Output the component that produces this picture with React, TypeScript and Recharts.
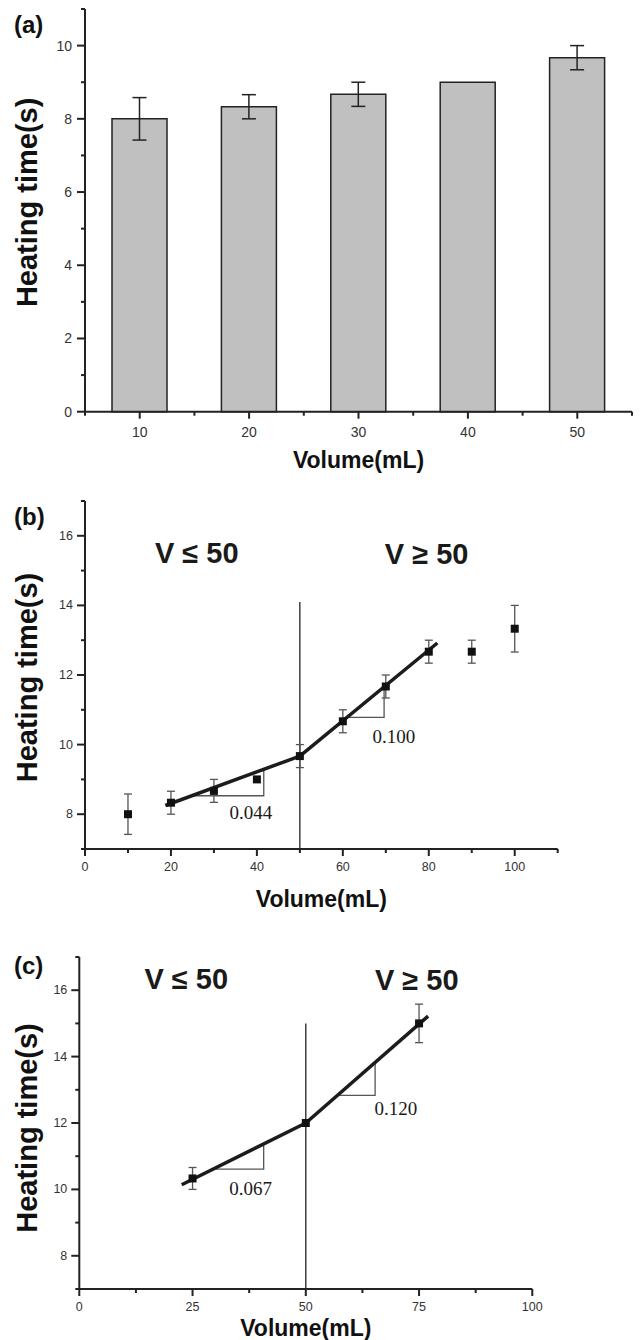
import React from "react";
import {
  BarChart,
  Bar,
  ComposedChart,
  Scatter,
  XAxis,
  YAxis,
  ErrorBar,
  ReferenceLine,
  ReferenceDot,
  Label,
} from "recharts";

// ---- (a) heating time by volume, bars ----
const volumesA = [10, 20, 30, 40, 50];
const timesA = [8.0, 8.33, 8.67, 9.0, 9.67];
const errorsA = [0.58, 0.33, 0.33, 0, 0.33];
const xTicksA = [5, 10, 15, 20, 25, 30, 35, 40, 45, 50, 55];
const xMajorsA = [10, 20, 30, 40, 50];
const yTicksA = [0, 1, 2, 3, 4, 5, 6, 7, 8, 9, 10, 11];
const yMajorsA = [0, 2, 4, 6, 8, 10];

// ---- (b) measured points with two linear fits ----
const volumesB = [10, 20, 30, 40, 50, 60, 70, 80, 90, 100];
const timesB = [8.0, 8.33, 8.67, 9.0, 9.67, 10.67, 11.67, 12.67, 12.67, 13.33];
const errorsB = [0.58, 0.33, 0.33, 0, 0.33, 0.33, 0.33, 0.33, 0.33, 0.67];
const fitLowB = [{ x: 18.7, y: 8.25 }, { x: 50, y: 9.67 }];
const fitHighB = [{ x: 50, y: 9.67 }, { x: 82, y: 12.92 }];
const slopeLowB = [{ x: 24.9, y: 8.53 }, { x: 41.6, y: 8.53 }, { x: 41.6, y: 9.27 }];
const slopeHighB = [{ x: 61, y: 10.78 }, { x: 69.6, y: 10.78 }, { x: 69.6, y: 11.67 }];
const splitB = [{ x: 50, y: 7 }, { x: 50, y: 14.1 }];
const regionLabelsB = [
  { text: "V ≤ 50", x: 26, y: 15.52 },
  { text: "V ≥ 50", x: 79.5, y: 15.49 },
];
const slopeLabelsB = [
  { text: "0.044", x: 38.6, y: 8.04 },
  { text: "0.100", x: 71.9, y: 10.22 },
];
const xTicksB = [0, 10, 20, 30, 40, 50, 60, 70, 80, 90, 100, 110];
const xMajorsB = [0, 20, 40, 60, 80, 100];
const yTicksB = [7, 8, 9, 10, 11, 12, 13, 14, 15, 16, 17];
const yMajorsB = [8, 10, 12, 14, 16];

// ---- (c) three volumes with two linear fits ----
const volumesC = [25, 50, 75];
const timesC = [10.33, 12.0, 15.0];
const errorsC = [0.33, 0, 0.58];
const fitLowC = [{ x: 22.6, y: 10.14 }, { x: 50, y: 12.0 }];
const fitHighC = [{ x: 50, y: 12.0 }, { x: 77, y: 15.22 }];
const slopeLowC = [{ x: 30.1, y: 10.61 }, { x: 40.7, y: 10.61 }, { x: 40.7, y: 11.33 }];
const slopeHighC = [{ x: 57.2, y: 12.83 }, { x: 65.3, y: 12.83 }, { x: 65.3, y: 13.79 }];
const splitC = [{ x: 50, y: 7 }, { x: 50, y: 15 }];
const regionLabelsC = [
  { text: "V ≤ 50", x: 23.6, y: 16.33 },
  { text: "V ≥ 50", x: 74.5, y: 16.3 },
];
const slopeLabelsC = [
  { text: "0.067", x: 37.8, y: 10.02 },
  { text: "0.120", x: 69.9, y: 12.43 },
];
const xTicksC = [0, 12.5, 25, 37.5, 50, 62.5, 75, 87.5, 100];
const xMajorsC = [0, 25, 50, 75, 100];
const yTicksC = [7, 8, 9, 10, 11, 12, 13, 14, 15, 16, 17];
const yMajorsC = [8, 10, 12, 14, 16];

const SANS = "'Liberation Sans', Arial, Helvetica, sans-serif";
const SERIF = "'Liberation Serif', 'Times New Roman', serif";
const AXIS = "#222";
const TICK_TEXT = "#333";

// ticks drawn by hand so major and minor marks get different lengths
function xTick(majors: number[], fontSize: number, gap: number) {
  return (props: any) => {
    const { y, payload } = props;
    const x = payload.coordinate;
    const major = majors.includes(payload.value);
    return (
      <g>
        <line x1={x} y1={y} x2={x} y2={y + (major ? 7 : 4)} stroke={AXIS} strokeWidth={2} />
        {major && (
          <text
            x={x}
            y={y + gap}
            textAnchor="middle"
            dominantBaseline="central"
            fontSize={fontSize}
            fontFamily={SANS}
            fill={TICK_TEXT}
          >
            {payload.value}
          </text>
        )}
      </g>
    );
  };
}

function yTick(majors: number[], fontSize: number, gap: number) {
  return (props: any) => {
    const { x, payload } = props;
    const y = payload.coordinate;
    const major = majors.includes(payload.value);
    return (
      <g>
        <line x1={x} y1={y} x2={x - (major ? 8 : 4)} y2={y} stroke={AXIS} strokeWidth={2} />
        {major && (
          <text
            x={x - gap}
            y={y}
            textAnchor="end"
            dominantBaseline="central"
            fontSize={fontSize}
            fontFamily={SANS}
            fill={TICK_TEXT}
          >
            {payload.value}
          </text>
        )}
      </g>
    );
  };
}

function xTitle(dy: number) {
  return (props: any) => {
    const vb = props.viewBox;
    return (
      <text
        x={vb.x + vb.width / 2}
        y={vb.y + dy}
        textAnchor="middle"
        dominantBaseline="central"
        fontSize={23}
        fontWeight={700}
        fontFamily={SANS}
        fill="#111"
      >
        Volume(mL)
      </text>
    );
  };
}

function yTitle(dy: number) {
  return (props: any) => {
    const vb = props.viewBox;
    const cx = 37;
    const cy = vb.y + vb.height / 2 + dy;
    return (
      <text
        x={cx}
        y={cy}
        transform={`rotate(-90 ${cx} ${cy})`}
        textAnchor="middle"
        fontSize={29}
        fontWeight={700}
        fontFamily={SANS}
        fill="#111"
      >
        Heating time(s)
      </text>
    );
  };
}

function note(text: string, fontSize: number, family: string, weight: number) {
  return (props: any) => {
    const vb = props.viewBox;
    return (
      <text
        x={vb.x}
        y={vb.y}
        textAnchor="middle"
        dominantBaseline="central"
        fontSize={fontSize}
        fontWeight={weight}
        fontFamily={family}
        fill="#1a1a1a"
      >
        {text}
      </text>
    );
  };
}

const noDot = () => <g />;

function PanelLetter({ text, top }: { text: string; top: number }) {
  return (
    <div
      style={{
        position: "absolute",
        left: 14,
        top,
        fontFamily: SANS,
        fontWeight: 700,
        fontSize: 24,
        lineHeight: "24px",
        color: "#111",
      }}
    >
      {text}
    </div>
  );
}

function BarPanel() {
  const data = volumesA.map((v, i) => ({ v, t: timesA[i], e: errorsA[i] }));
  return (
    <div style={{ position: "absolute", left: 0, top: 0 }}>
      <BarChart width={640} height={480} data={data} margin={{ top: 9, right: 8, bottom: 0, left: 0 }}>
        <XAxis
          dataKey="v"
          type="number"
          domain={[5, 55]}
          ticks={xTicksA}
          interval={0}
          height={68.3}
          tickSize={0}
          tickMargin={0}
          tickLine={false}
          tick={xTick(xMajorsA, 14, 20)}
          axisLine={{ stroke: AXIS, strokeWidth: 2 }}
        >
          <Label content={xTitle(48)} />
        </XAxis>
        <YAxis
          type="number"
          domain={[0, 11]}
          ticks={yTicksA}
          interval={0}
          width={85}
          tickSize={0}
          tickMargin={0}
          tickLine={false}
          tick={yTick(yMajorsA, 14, 13)}
          axisLine={{ stroke: AXIS, strokeWidth: 2 }}
        >
          <Label content={yTitle(-8)} />
        </YAxis>
        <Bar dataKey="t" barSize={55} fill="#c0c0c0" stroke={AXIS} strokeWidth={1.5} isAnimationActive={false}>
          <ErrorBar dataKey="e" width={7} stroke={AXIS} strokeWidth={1.5} />
        </Bar>
      </BarChart>
    </div>
  );
}

interface SlopePanelProps {
  top: number;
  height: number;
  marginTop: number;
  plotHeight: number;
  right: number;
  axisWidth: number;
  xDomain: [number, number];
  xTicks: number[];
  xMajors: number[];
  yTicks: number[];
  yMajors: number[];
  volumes: number[];
  times: number[];
  errors: number[];
  fits: { x: number; y: number }[][];
  slopes: { x: number; y: number }[][];
  split: { x: number; y: number }[];
  regionLabels: { text: string; x: number; y: number }[];
  slopeLabels: { text: string; x: number; y: number }[];
  xTitleDy: number;
  yTitleDy: number;
}

function SlopePanel(p: SlopePanelProps) {
  const points = p.volumes.map((x, i) => ({ x, y: p.times[i], err: p.errors[i] }));
  const xAxisHeight = p.height - p.marginTop - p.plotHeight;
  return (
    <div style={{ position: "absolute", left: 0, top: p.top }}>
      <ComposedChart width={640} height={p.height} margin={{ top: p.marginTop, right: p.right, bottom: 0, left: 0 }}>
        <XAxis
          dataKey="x"
          type="number"
          domain={p.xDomain}
          ticks={p.xTicks}
          interval={0}
          height={xAxisHeight}
          tickSize={0}
          tickMargin={0}
          tickLine={false}
          tick={xTick(p.xMajors, 12.5, 18)}
          axisLine={{ stroke: AXIS, strokeWidth: 2 }}
        >
          <Label content={xTitle(p.xTitleDy)} />
        </XAxis>
        <YAxis
          dataKey="y"
          type="number"
          domain={[7, 17]}
          ticks={p.yTicks}
          interval={0}
          width={p.axisWidth}
          tickSize={0}
          tickMargin={0}
          tickLine={false}
          tick={yTick(p.yMajors, 12.5, 12)}
          axisLine={{ stroke: AXIS, strokeWidth: 2 }}
        >
          <Label content={yTitle(p.yTitleDy)} />
        </YAxis>
        <ReferenceLine segment={p.split} stroke={AXIS} strokeWidth={1.3} />
        {p.slopes.map((s, i) => (
          <Scatter
            key={`s${i}`}
            data={s}
            line={{ stroke: "#555", strokeWidth: 1.3 }}
            shape={noDot}
            isAnimationActive={false}
          />
        ))}
        {p.fits.map((f, i) => (
          <Scatter
            key={`f${i}`}
            data={f}
            line={{ stroke: "#1c1c1c", strokeWidth: 3.5 }}
            shape={noDot}
            isAnimationActive={false}
          />
        ))}
        <Scatter data={points} shape="square" fill="#111" isAnimationActive={false}>
          <ErrorBar dataKey="err" direction="y" width={4} stroke="#555" strokeWidth={1.3} />
        </Scatter>
        {p.regionLabels.map((n) => (
          <ReferenceDot
            key={n.text}
            x={n.x}
            y={n.y}
            r={0}
            fill="none"
            stroke="none"
            label={{ content: note(n.text, 29, SANS, 700) }}
          />
        ))}
        {p.slopeLabels.map((n) => (
          <ReferenceDot
            key={n.text}
            x={n.x}
            y={n.y}
            r={0}
            fill="none"
            stroke="none"
            label={{ content: note(n.text, 19, SERIF, 400) }}
          />
        ))}
      </ComposedChart>
    </div>
  );
}

export default function App() {
  return (
    <div style={{ position: "absolute", left: 0, top: 0, width: 640, height: 1340, background: "#fff" }}>
      <BarPanel />
      <SlopePanel
        top={480}
        height={445}
        marginTop={21}
        plotHeight={348}
        right={82.3}
        axisWidth={85}
        xDomain={[0, 110]}
        xTicks={xTicksB}
        xMajors={xMajorsB}
        yTicks={yTicksB}
        yMajors={yMajorsB}
        volumes={volumesB}
        times={timesB}
        errors={errorsB}
        fits={[fitLowB, fitHighB]}
        slopes={[slopeLowB, slopeHighB]}
        split={splitB}
        regionLabels={regionLabelsB}
        slopeLabels={slopeLabelsB}
        xTitleDy={50}
        yTitleDy={2.5}
      />
      <SlopePanel
        top={925}
        height={415}
        marginTop={32}
        plotHeight={332}
        right={107.7}
        axisWidth={79.3}
        xDomain={[0, 100]}
        xTicks={xTicksC}
        xMajors={xMajorsC}
        yTicks={yTicksC}
        yMajors={yMajorsC}
        volumes={volumesC}
        times={timesC}
        errors={errorsC}
        fits={[fitLowC, fitHighC]}
        slopes={[slopeLowC, slopeHighC]}
        split={splitC}
        regionLabels={regionLabelsC}
        slopeLabels={slopeLabelsC}
        xTitleDy={38.5}
        yTitleDy={5}
      />
      <PanelLetter text="(a)" top={13} />
      <PanelLetter text="(b)" top={505} />
      <PanelLetter text="(c)" top={954} />
    </div>
  );
}
